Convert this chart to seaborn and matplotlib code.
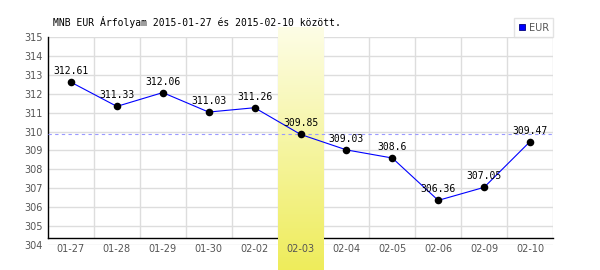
import numpy as np
import pandas as pd
import matplotlib
matplotlib.use("Agg")
import matplotlib.pyplot as plt
from matplotlib.lines import Line2D
from matplotlib.colors import LinearSegmentedColormap
import seaborn as sns

dates = ["01-27", "01-28", "01-29", "01-30", "02-02", "02-03",
         "02-04", "02-05", "02-06", "02-09", "02-10"]
eur = [312.61, 311.33, 312.06, 311.03, 311.26, 309.85,
       309.03, 308.6, 306.36, 307.05, 309.47]
labels = ["312.61", "311.33", "312.06", "311.03", "311.26", "309.85",
          "309.03", "308.6", "306.36", "307.05", "309.47"]
yticks = list(range(304, 316))
highlight = "02-03"
title = "MNB EUR Árfolyam 2015-01-27 és 2015-02-10 között."

sns.set_theme(style="white")
plt.rcParams['font.family'] = ['DejaVu Sans']

df = pd.DataFrame({"pos": np.arange(len(dates)), "date": dates, "eur": eur})
avg = float(np.mean(eur))

fig = plt.figure(figsize=(6, 2.7), dpi=100)
ax = fig.add_axes([48/600, 25/270, 505/600, 208/270])
ax.set_facecolor("white")

ymin, ymax = 304, 315
ybase = 304.37
n = len(dates)

# horizontal grid
ax.set_yticks(yticks)
ax.yaxis.grid(True, color="#dddddd", linewidth=1.0)
ax.set_axisbelow(True)
ax.xaxis.grid(False)

# vertical grid lines (category boundaries)
bounds = np.arange(n + 1) - 0.5
ax.vlines(bounds[1:], ybase, ymax, colors="#dddddd", linewidth=1.0, zorder=0.6)

# highlight band with gradient
hi = dates.index(highlight)
cmap = LinearSegmentedColormap.from_list("yl", ["#fdfde6", "#eeec5a"])
grad = np.linspace(0, 1, 256).reshape(-1, 1)
ax.imshow(grad, cmap=cmap, aspect="auto", origin="upper",
          extent=(hi - 0.5, hi + 0.5, 302.6, 315.48), zorder=3, clip_on=False)

# average line
ax.axhline(avg, color="#9999ff", linewidth=0.8, linestyle=(0, (3, 3)), zorder=3.5)

# data
sns.lineplot(data=df, x="pos", y="eur", color="#0000ff", linewidth=0.8, ax=ax, zorder=4)
sns.scatterplot(data=df, x="pos", y="eur", color="black", s=30, edgecolor="black",
                linewidth=0, ax=ax, zorder=5, legend=False)

for x, y, t in zip(df["pos"], eur, labels):
    ax.annotate(t, (x, y), xytext=(0, 11), textcoords="offset pixels",
                ha="center", va="center", fontsize=7, family="DejaVu Sans Mono",
                color="black", zorder=6)

ax.set_xlim(-0.5, n - 0.5)
ax.set_ylim(ymin, ymax)
ax.set_xticks(df["pos"])
ax.set_xticklabels(dates)
ax.set_xlabel("")
ax.set_ylabel("")
ax.tick_params(axis="both", length=0, labelsize=7, labelcolor="#555555")
ax.tick_params(axis="y", pad=4)
ax.tick_params(axis="x", pad=4)
ax.xaxis.set_zorder(3.6)

for s in ["top", "right"]:
    ax.spines[s].set_visible(False)
ax.spines["left"].set_color("black")
ax.spines["left"].set_linewidth(1.0)
ax.spines["left"].set_bounds(ybase, ymax)
ax.spines["bottom"].set_color("black")
ax.spines["bottom"].set_linewidth(1.0)
ax.spines["bottom"].set_position(("data", ybase))

handle = Line2D([], [], marker="s", linestyle="none", markersize=5,
                markerfacecolor="#0000ff", markeredgecolor="#000080",
                markeredgewidth=0.6)
leg = ax.legend([handle], ["EUR"], loc="lower right", bbox_to_anchor=(1.0, 1.0),
                borderaxespad=0, fancybox=False, frameon=True, edgecolor="#dddddd",
                fontsize=7, handlelength=0.7, handletextpad=0.3, borderpad=0.45,
                labelcolor="#555555")
leg.get_frame().set_linewidth(1.0)

fig.text(53/600, 1 - 22/270, title, fontsize=7, family="DejaVu Sans Mono",
         ha="left", va="center", color="black")

fig.savefig("out.png", dpi=100, facecolor="white")
